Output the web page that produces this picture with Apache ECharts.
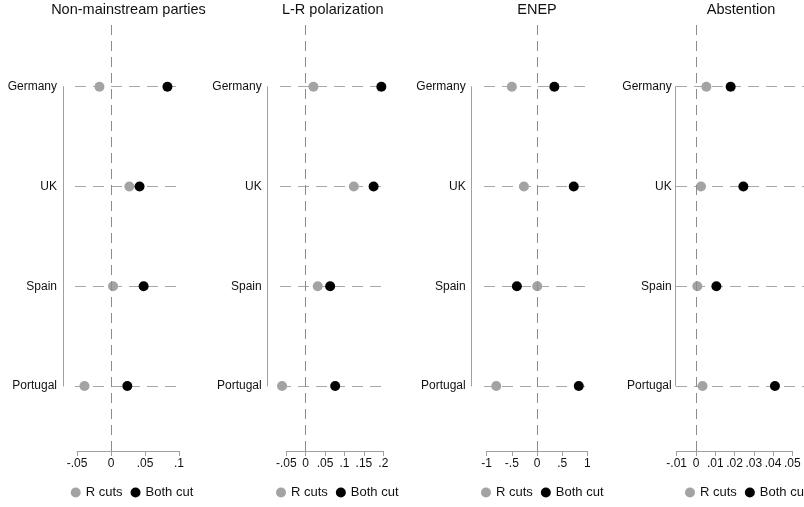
<!DOCTYPE html>
<html>
<head>
<meta charset="utf-8">
<script src="https://cdn.jsdelivr.net/npm/echarts@6/dist/echarts.min.js"></script>
<style>
html,body{margin:0;padding:0;background:#fff;}
#chart{width:804px;height:507px;}
</style>
</head>
<body>
<div id="chart"></div>
<script>
// ---------------- data ----------------
const countries = ['Germany', 'UK', 'Spain', 'Portugal'];
const panelTitles = ['Non-mainstream parties', 'L-R polarization', 'ENEP', 'Abstention'];
const seriesNames = ['R cuts', 'Both cut'];

const rCutsNonMainstream   = [-0.017, 0.027, 0.003, -0.039];
const bothCutNonMainstream = [0.083, 0.042, 0.048, 0.024];
const rCutsPolarization    = [0.020, 0.124, 0.031, -0.061];
const bothCutPolarization  = [0.195, 0.175, 0.063, 0.076];
const rCutsENEP            = [-0.50, -0.26, 0.005, -0.81];
const bothCutENEP          = [0.345, 0.73, -0.40, 0.83];
const rCutsAbstention      = [0.0054, 0.0026, 0.0007, 0.0034];
const bothCutAbstention    = [0.018, 0.0246, 0.0106, 0.041];

const ticksNonMainstream  = [-0.05, 0, 0.05, 0.1];
const labelsNonMainstream = ['-.05', '0', '.05', '.1'];
const ticksPolarization   = [-0.05, 0, 0.05, 0.1, 0.15, 0.2];
const labelsPolarization  = ['-.05', '0', '.05', '.1', '.15', '.2'];
const ticksENEP           = [-1, -0.5, 0, 0.5, 1];
const labelsENEP          = ['-1', '-.5', '0', '.5', '1'];
const ticksAbstention     = [-0.01, 0, 0.01, 0.02, 0.03, 0.04, 0.05];
const labelsAbstention    = ['-.01', '0', '.01', '.02', '.03', '.04', '.05'];

const panelR     = [rCutsNonMainstream, rCutsPolarization, rCutsENEP, rCutsAbstention];
const panelBoth  = [bothCutNonMainstream, bothCutPolarization, bothCutENEP, bothCutAbstention];
const panelTicks = [ticksNonMainstream, ticksPolarization, ticksENEP, ticksAbstention];
const panelTickLabels = [labelsNonMainstream, labelsPolarization, labelsENEP, labelsAbstention];

// ---------------- layout (pixels) ----------------
const layout = [
  {tickL: 77,    tickR: 179,   regL: 75,  regR: 182,   yOff: 12,   yLabM: 6, legL: 70.7},
  {tickL: 286.3, tickR: 383.3, regL: 280, regR: 385.5, yOff: 12.3, yLabM: 6, legL: 276},
  {tickL: 486.7, tickR: 587.3, regL: 484, regR: 590,   yOff: 12.3, yLabM: 6, legL: 481},
  {tickL: 676.7, tickR: 792.3, regL: 676, regR: 806,   yOff: 0.3,  yLabM: 4, legL: 685}
];
const gridATop = 22, gridAHeight = 429;
const gridBTop = 86.7, gridBHeight = 299.3;

const GREY_DOT = '#a3a3a3';
const BLACK_DOT = '#000000';
const AXIS_GREY = '#a0a0a0';
const TEXT = '#111111';
const FONT = 'Liberation Sans, Arial, Helvetica, sans-serif';

const grids = [], xAxes = [], yAxes = [], series = [], titles = [], legends = [];

for (let p = 0; p < 4; p++) {
  const L = layout[p];
  const ticks = panelTicks[p];
  const tmin = ticks[0], tmax = ticks[ticks.length - 1];
  const interval = ticks[1] - ticks[0];
  const scale = (L.tickR - L.tickL) / (tmax - tmin);
  const bMin = tmin - (L.tickL - L.regL) / scale;
  const bMax = tmax + (L.regR - L.tickR) / scale;
  const labs = panelTickLabels[p];

  // grid A: tick-range axis + zero line
  const ga = grids.length;
  grids.push({left: L.tickL, width: L.tickR - L.tickL, top: gridATop, height: gridAHeight,
              containLabel: false, outerBoundsMode: 'none'});
  // grid B: plot region with categories
  const gb = grids.length;
  grids.push({left: L.regL, width: L.regR - L.regL, top: gridBTop, height: gridBHeight,
              containLabel: false, outerBoundsMode: 'none'});

  const xa = xAxes.length;
  xAxes.push({
    type: 'value', gridIndex: ga, min: tmin, max: tmax, interval: interval,
    position: 'bottom',
    axisLine: {show: true, onZero: false, lineStyle: {color: AXIS_GREY, width: 1}},
    axisTick: {show: true, length: 5, lineStyle: {color: AXIS_GREY, width: 1}},
    axisLabel: {
      show: true, margin: 7, color: TEXT, fontSize: 12, fontFamily: FONT,
      showMinLabel: true, showMaxLabel: true,
      formatter: function (v) {
        let best = 0, bd = Infinity;
        for (let i = 0; i < ticks.length; i++) {
          const d = Math.abs(ticks[i] - v);
          if (d < bd) { bd = d; best = i; }
        }
        return labs[best];
      }
    },
    splitLine: {show: false}
  });
  const xb = xAxes.length;
  xAxes.push({type: 'value', gridIndex: gb, min: bMin, max: bMax, show: false,
              axisLine: {onZero: false}, splitLine: {show: false}});

  const ya = yAxes.length;
  yAxes.push({type: 'value', gridIndex: ga, min: 0, max: 1, show: false,
              axisLine: {onZero: false}, splitLine: {show: false}});
  const yb = yAxes.length;
  yAxes.push({
    type: 'category', gridIndex: gb, data: countries, inverse: true, boundaryGap: false,
    position: 'left', offset: L.yOff,
    axisLine: {show: true, onZero: false, lineStyle: {color: AXIS_GREY, width: 1}},
    axisTick: {show: false},
    axisLabel: {show: true, margin: L.yLabM, color: TEXT, fontSize: 12, fontFamily: FONT, interval: 0},
    splitLine: {show: true, interval: 0, lineStyle: {color: '#a8a8a8', width: 1, type: [11, 7]}}
  });

  // zero reference line
  series.push({
    type: 'line', name: 'zero' + p, xAxisIndex: xa, yAxisIndex: ya, data: [], z: 1,
    silent: true,
    markLine: {
      silent: true, symbol: ['none', 'none'], label: {show: false},
      lineStyle: {color: '#8c8c8c', width: 1, type: [10, 6]},
      data: [{xAxis: 0}]
    }
  });

  const rData = countries.map((c, i) => [panelR[p][i], c]);
  const bData = countries.map((c, i) => [panelBoth[p][i], c]);
  series.push({
    type: 'scatter', name: seriesNames[0], xAxisIndex: xb, yAxisIndex: yb, data: rData,
    symbol: 'circle', symbolSize: 10, itemStyle: {color: GREY_DOT, opacity: 1}, z: 3, clip: false
  });
  series.push({
    type: 'scatter', name: seriesNames[1], xAxisIndex: xb, yAxisIndex: yb, data: bData,
    symbol: 'circle', symbolSize: 10, itemStyle: {color: BLACK_DOT, opacity: 1}, z: 4, clip: false
  });

  titles.push({
    text: panelTitles[p], left: (L.regL + L.regR) / 2, textAlign: 'center', top: 2, padding: 0,
    textStyle: {color: TEXT, fontSize: 14.5, fontWeight: 'normal', fontFamily: FONT}
  });

  legends.push({
    data: seriesNames, left: L.legL, top: 486, width: 200, padding: 0, orient: 'horizontal',
    itemWidth: 10, itemHeight: 10, itemGap: 8, icon: 'circle', selectedMode: false,
    textStyle: {color: TEXT, fontSize: 13, fontFamily: FONT}
  });
}

const chart = echarts.init(document.getElementById('chart'), null, {renderer: 'canvas'});
chart.setOption({
  backgroundColor: '#ffffff',
  animation: false,
  title: titles,
  legend: legends,
  grid: grids,
  xAxis: xAxes,
  yAxis: yAxes,
  series: series
});
</script>
</body>
</html>
